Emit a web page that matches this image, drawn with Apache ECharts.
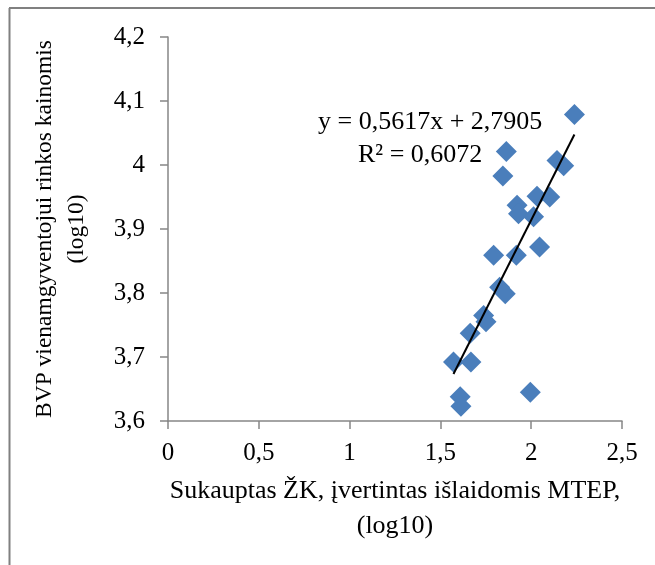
<!DOCTYPE html>
<html><head><meta charset="utf-8">
<script src="https://cdn.jsdelivr.net/npm/echarts@6/dist/echarts.min.js"></script>
<style>html,body{margin:0;padding:0;background:#fff}#c{width:655px;height:565px}</style>
</head><body><div id="c"></div>
<script>
const xValues = [2.238,1.863,1.844,2.142,2.179,2.032,2.102,1.922,1.930,2.013,2.046,1.793,1.918,1.826,1.857,1.738,1.751,1.664,1.572,1.668,1.609,1.613,1.995];
const yValues = [4.079,4.021,3.983,4.007,3.999,3.951,3.950,3.937,3.924,3.919,3.872,3.859,3.859,3.809,3.799,3.765,3.755,3.737,3.692,3.692,3.638,3.623,3.645];
const slope = 0.5617, intercept = 2.7905;
const eqText = 'y = 0,5617x + 2,7905';
const r2Text = 'R² = 0,6072';
const xTitle = 'Sukauptas ŽK, įvertintas išlaidomis MTEP,\n(log10)';
const yTitle = 'BVP vienamgyventojui rinkos kainomis\n(log10)';

const pts = xValues.map((x,i)=>[x,yValues[i]]);
const xmin = Math.min(...xValues), xmax = Math.max(...xValues);
const trend = [[xmin, slope*xmin+intercept],[xmax, slope*xmax+intercept]];
const fmt = v => String(+v.toFixed(2)).replace('.', ',');
const font = 'Liberation Serif, Times New Roman, serif';
const axisColor = '#868686';

const chart = echarts.init(document.getElementById('c'));
chart.setOption({
  animation:false,
  grid:{left:168,right:33,top:37,bottom:144},
  xAxis:{type:'value',min:0,max:2.5,interval:0.5,
    axisLine:{show:true,lineStyle:{color:axisColor,width:1.5}},
    axisTick:{show:true,length:8,lineStyle:{color:axisColor,width:1.5}},
    splitLine:{show:false},
    axisLabel:{formatter:fmt,color:'#000',fontFamily:font,fontSize:25,margin:20},
    name:xTitle,nameLocation:'middle',nameGap:53,
    nameTextStyle:{color:'#000',fontFamily:font,fontSize:26,lineHeight:35}},
  yAxis:{type:'value',min:3.6,max:4.2,interval:0.1,
    axisLine:{show:true,lineStyle:{color:axisColor,width:1.5}},
    axisTick:{show:true,length:8,lineStyle:{color:axisColor,width:1.5}},
    splitLine:{show:false},
    axisLabel:{formatter:fmt,color:'#000',fontFamily:font,fontSize:25,margin:23},
    name:yTitle,nameLocation:'middle',nameGap:75,nameRotate:90,
    nameTextStyle:{color:'#000',fontFamily:font,fontSize:23.5,lineHeight:32}},
  series:[
    {type:'scatter',data:pts,symbol:'diamond',symbolSize:21,
      itemStyle:{color:'#4a7ebb',opacity:1}},
    {type:'line',data:trend,symbol:'none',lineStyle:{color:'#000',width:2},z:3}
  ],
  graphic:[
    {type:'line',shape:{x1:9.5,y1:565,x2:9.5,y2:8},style:{stroke:'#808080',lineWidth:2}},
    {type:'line',shape:{x1:9,y1:8,x2:655,y2:8},style:{stroke:'#808080',lineWidth:2}},
    {type:'text',x:318,y:122,style:{text:eqText,font:'26px '+font,fill:'#000',verticalAlign:'middle'}},
    {type:'text',x:358,y:155,style:{text:r2Text,font:'26px '+font,fill:'#000',verticalAlign:'middle'}}
  ]
});
</script></body></html>
